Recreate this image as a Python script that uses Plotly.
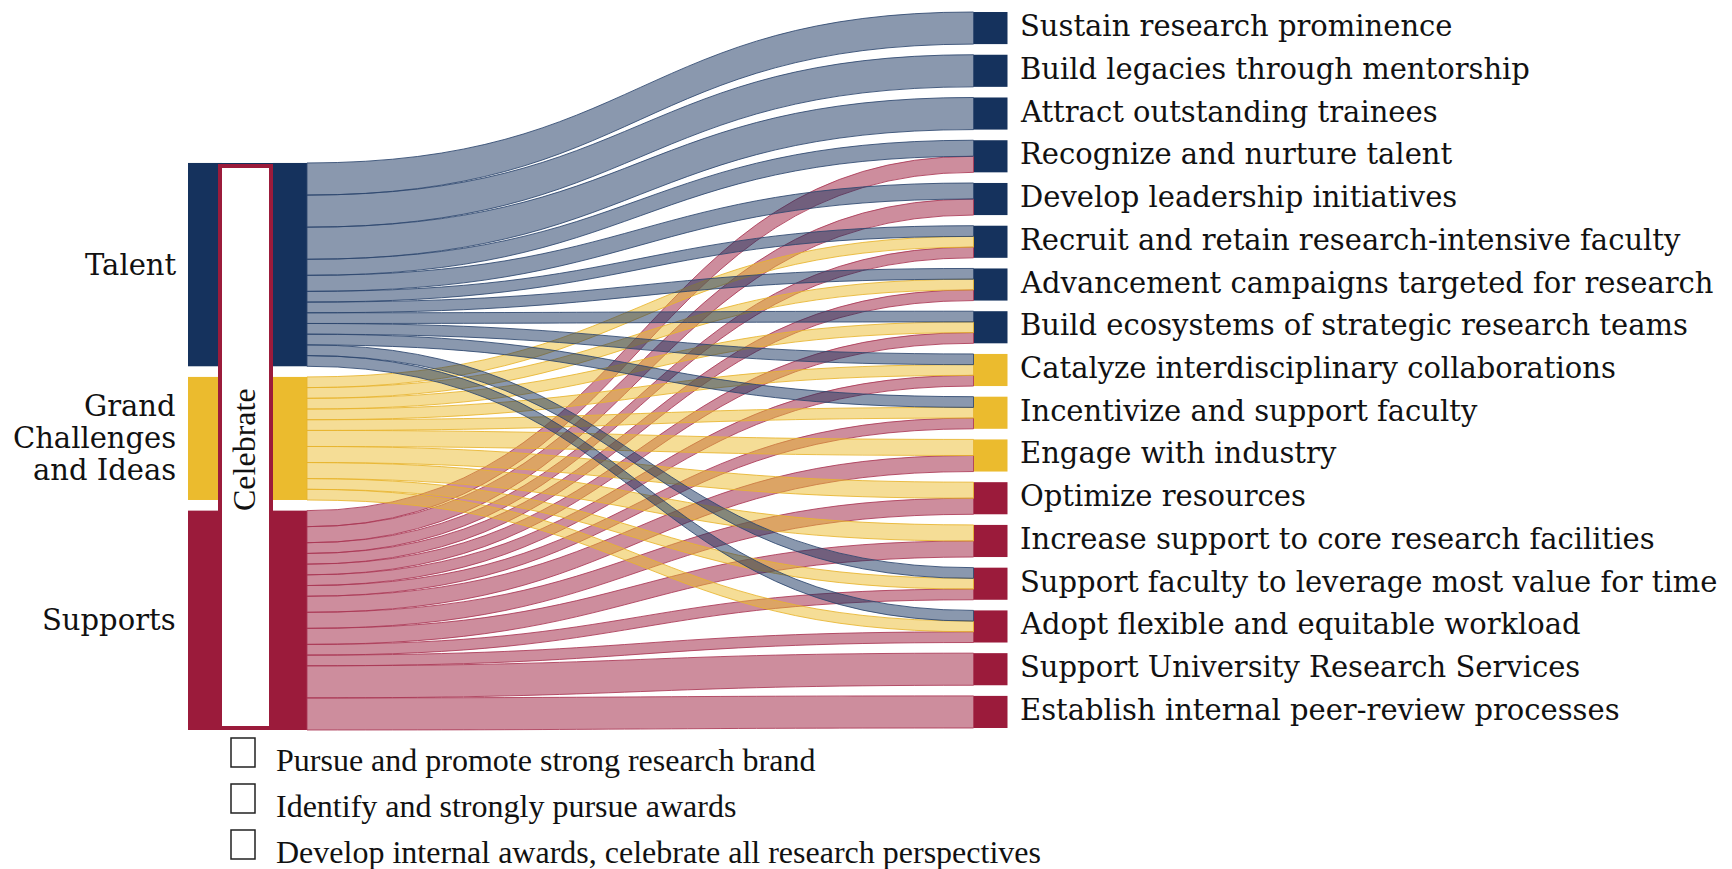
import plotly.graph_objects as go

PAGE_W, PAGE_H = 1732, 869
OFF = 8                       # default body margin of the html page
W, HP = PAGE_W - OFF, PAGE_H - OFF

# ---------------- data ----------------
groups = ["Talent", "Grand<br>Challenges<br>and Ideas", "Supports"]
group_colors = [(21, 50, 93), (235, 187, 46), (155, 27, 59)]
border_colors = [(45, 70, 110), (232, 180, 45), (170, 55, 85)]

targets = [
    "Sustain research prominence",
    "Build legacies through mentorship",
    "Attract outstanding trainees",
    "Recognize and nurture talent",
    "Develop leadership initiatives",
    "Recruit and retain research-intensive faculty",
    "Advancement campaigns targeted for research",
    "Build ecosystems of strategic research teams",
    "Catalyze interdisciplinary collaborations",
    "Incentivize and support faculty",
    "Engage with industry",
    "Optimize resources",
    "Increase support to core research facilities",
    "Support faculty to leverage most value for time",
    "Adopt flexible and equitable workload",
    "Support University Research Services",
    "Establish internal peer-review processes",
]
target_group = [0, 0, 0, 0, 0, 0, 0, 0, 1, 1, 1, 2, 2, 2, 2, 2, 2]

talent_flow = [6, 6, 6, 3, 3, 2, 2, 2, 2, 2, 0, 0, 0, 2, 2, 0, 0]
gc_flow     = [0, 0, 0, 0, 0, 2, 2, 2, 2, 2, 3, 3, 3, 2, 2, 0, 0]
supp_flow   = [0, 0, 0, 3, 3, 2, 2, 2, 2, 2, 3, 3, 3, 2, 2, 6, 6]
flows = [talent_flow, gc_flow, supp_flow]

celebrate_label = "Celebrate"
celebrate_items = [
    "Pursue and promote strong research brand",
    "Identify and strongly pursue awards",
    "Develop internal awards, celebrate all research perspectives",
]

# ---------------- layout geometry (page px) ----------------
dom_top, dom_bot = 12, 728
H = dom_bot - dom_top
pad = 10.64
thick = 34
x_col0, x_col1, x_right = 205, 290, 990.5
label_x_right = 1018
label_x_left = 178
left_shift = 2
line_gap = 32

def rgba(c, a):
    return "rgba(%d,%d,%d,%s)" % (c[0], c[1], c[2], a)

def hexc(c):
    return "#%02x%02x%02x" % c

def px(x):
    return (x - OFF) / W

def py(y):
    return 1 - (y - OFF) / HP

n_g = len(groups)
n_t = len(targets)
group_tot = [sum(f) for f in flows]
total = sum(group_tot)
ky = (H - (n_t - 1) * pad) / total

right_tops, right_centers = [], []
acc = 0
for k in range(n_t):
    h = sum(f[k] for f in flows) * ky
    right_tops.append(acc)
    right_centers.append(acc + h / 2)
    acc += h + pad

left_span = total * ky + (n_g - 1) * pad
acc = H - left_span + left_shift
left_centers, left_tops = [], []
for g in range(n_g):
    h = group_tot[g] * ky
    left_tops.append(acc)
    left_centers.append(acc + h / 2)
    acc += h + pad
left_bottom = acc - pad

domain = dict(x=[0, 1], y=[py(dom_bot), py(dom_top)])
traces = []

# ---- base trace: all nodes (visible), links transparent except the left connectors
node_x, node_y, node_col = [], [], []
for col_x in (x_col0, x_col1):
    for g in range(n_g):
        node_x.append(px(col_x)); node_y.append(left_centers[g] / H)
        node_col.append(hexc(group_colors[g]))
for k in range(n_t):
    node_x.append(px(x_right)); node_y.append(right_centers[k] / H)
    node_col.append(hexc(group_colors[target_group[k]]))

src, tgt, val, lcol = [], [], [], []
for g in range(n_g):
    src.append(g); tgt.append(n_g + g); val.append(group_tot[g])
    lcol.append(hexc(group_colors[g]))
for g in range(n_g):
    for k in range(n_t):
        if flows[g][k] > 0:
            src.append(n_g + g); tgt.append(2 * n_g + k); val.append(flows[g][k])
            lcol.append("rgba(0,0,0,0)")

traces.append(go.Sankey(
    arrangement="fixed", domain=domain,
    node=dict(label=[""] * len(node_x), x=node_x, y=node_y, color=node_col,
              pad=pad, thickness=thick, line=dict(width=0)),
    link=dict(source=src, target=tgt, value=val, color=lcol, line=dict(width=0)),
    textfont=dict(size=1, color="rgba(0,0,0,0)"),
))

# ---- one overlay trace per group so each gets its own link border colour.
# Off-page filler nodes keep the same column size/total as the base trace,
# so the value->pixel scale is identical.
for g in reversed(range(n_g)):
    ks = [k for k in range(n_t) if flows[g][k] > 0]
    m = len(ks)
    nx = [px(x_col1)]
    ny = [left_centers[g] / H]
    s, t, v, c = [], [], [], []
    for j, k in enumerate(ks):
        off = sum(flows[i][k] for i in range(g))
        yc = right_tops[k] + (off + flows[g][k] / 2) * ky
        nx.append(px(x_right)); ny.append(yc / H)
        s.append(0); t.append(j + 1); v.append(flows[g][k]); c.append(rgba(group_colors[g], 0.5))
    # filler
    n_fill = n_t - m
    rest = total - group_tot[g]
    d_idx = len(nx)
    nx.append(-3.0); ny.append(0.5)
    for f in range(n_fill):
        nx.append(-2.0); ny.append(0.1 + 0.05 * f)
        s.append(d_idx); t.append(d_idx + 1 + f)
        v.append(rest / n_fill); c.append("rgba(0,0,0,0)")
    traces.append(go.Sankey(
        arrangement="fixed", domain=domain,
        node=dict(label=[""] * len(nx), x=nx, y=ny, color="rgba(0,0,0,0)",
                  pad=pad, thickness=thick, line=dict(width=0)),
        link=dict(source=s, target=t, value=v, color=c,
                  line=dict(color=rgba(border_colors[g], 0.85), width=1)),
        textfont=dict(size=1, color="rgba(0,0,0,0)"),
    ))

fig = go.Figure(traces)

ann = []
lab_font = dict(family="DejaVu Serif", size=29, color="#111111")
for k, t in enumerate(targets):
    ann.append(dict(x=px(label_x_right), y=py(dom_top + right_centers[k] - 2), text=t,
                    xanchor="left", yanchor="middle", showarrow=False, font=lab_font))
for g, t in enumerate(groups):
    lines = t.split("<br>")
    for i, ln in enumerate(lines):
        yc = dom_top + left_centers[g] + (i - (len(lines) - 1) / 2) * line_gap
        ann.append(dict(x=px(label_x_left), y=py(yc), text=ln,
                        xanchor="right", yanchor="middle", showarrow=False, font=lab_font))

box_top = dom_top + left_tops[0] + 3
box_bot = dom_top + left_bottom - 2
ann.append(dict(x=px(244), y=py((box_top + box_bot) / 2 + 3), text=celebrate_label,
                textangle=-90, showarrow=False, xanchor="center", yanchor="middle",
                font=dict(family="Liberation Serif", size=32, color="#111111")))

shapes = [dict(type="rect", xref="paper", yref="paper",
               x0=px(220), x1=px(271), y0=py(box_top), y1=py(box_bot),
               line=dict(color=hexc(group_colors[2]), width=4), fillcolor="white",
               layer="above")]

leg_y0, leg_dy = 760, 46
for i, t in enumerate(celebrate_items):
    yc = leg_y0 + i * leg_dy
    ann.append(dict(x=px(274), y=py(yc), text=t, xanchor="left", yanchor="middle",
                    showarrow=False,
                    font=dict(family="Liberation Serif", size=32, color="#111111")))
    shapes.append(dict(type="rect", xref="paper", yref="paper",
                       x0=px(231), x1=px(255), y0=py(yc - 22), y1=py(yc + 7),
                       line=dict(color="#222222", width=1.5), fillcolor="white"))

fig.update_layout(width=W, height=HP, margin=dict(l=0, r=0, t=0, b=0),
                  paper_bgcolor="white", plot_bgcolor="white",
                  annotations=ann, shapes=shapes, showlegend=False)
fig.write_html("out.html")
